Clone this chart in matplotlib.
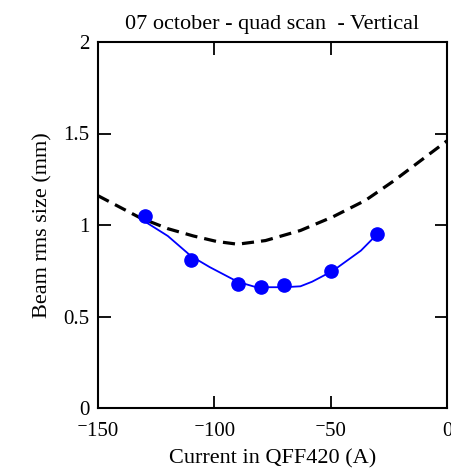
import matplotlib
matplotlib.use("Agg")
import matplotlib.pyplot as plt

# measured beam size vs quad current
current = [-130, -110, -90, -80, -70, -50, -30]
size_meas = [1.05, 0.81, 0.68, 0.66, 0.67, 0.75, 0.95]

# fit through the measured points (blue line)
fit_x = [-130, -120, -110, -102, -90, -82, -70, -63, -58, -49, -37, -30]
fit_y = [1.02, 0.94, 0.83, 0.77, 0.69, 0.66, 0.66, 0.665, 0.69, 0.75, 0.86, 0.95]

# model prediction (dashed black)
model_x = [-150, -132, -120, -109, -99, -90, -78, -63, -49, -35, -23, 0]
model_y = [1.16, 1.04, 0.98, 0.94, 0.91, 0.895, 0.915, 0.97, 1.045, 1.135, 1.24, 1.46]

xticks = [-150, -100, -50, 0]
xticklabels = ["\u207b150", "\u207b100", "\u207b50", "0"]
yticks = [0, 0.5, 1, 1.5, 2]
yticklabels = ["0", "0.5", "1", "1.5", "2"]

plt.rcParams['font.family'] = ['Liberation Serif', 'DejaVu Serif']

fig = plt.figure(figsize=(4.51, 4.70), dpi=100)
ax = fig.add_axes([98/451, 1 - 408/470, 349/451, 366/470])

ax.plot(model_x, model_y, color='black', linewidth=2.3, dashes=(3.8, 2.2))
ax.plot(fit_x, fit_y, color='blue', linewidth=1.3)
ax.plot(current, size_meas, 'o', color='blue', markersize=9.5)

ax.set_xlim(-150, 0)
ax.set_ylim(0, 2)
ax.set_xticks(xticks)
ax.set_xticklabels(xticklabels, fontsize=15)
ax.set_yticks(yticks)
ax.set_yticklabels(yticklabels, fontsize=15)
ax.tick_params(direction='in', length=9, width=1.3, top=True, right=True)
ax.tick_params(axis='x', pad=10)
ax.tick_params(axis='y', pad=6)
for s in ax.spines.values():
    s.set_linewidth(1.5)

ax.set_title("07 october - quad scan  - Vertical", fontsize=16, pad=9)
ax.set_xlabel("Current in QFF420 (A)", fontsize=16, labelpad=6)
ax.set_ylabel("Beam rms size (mm)", fontsize=16, labelpad=8)

fig.savefig("out.png", dpi=100)
